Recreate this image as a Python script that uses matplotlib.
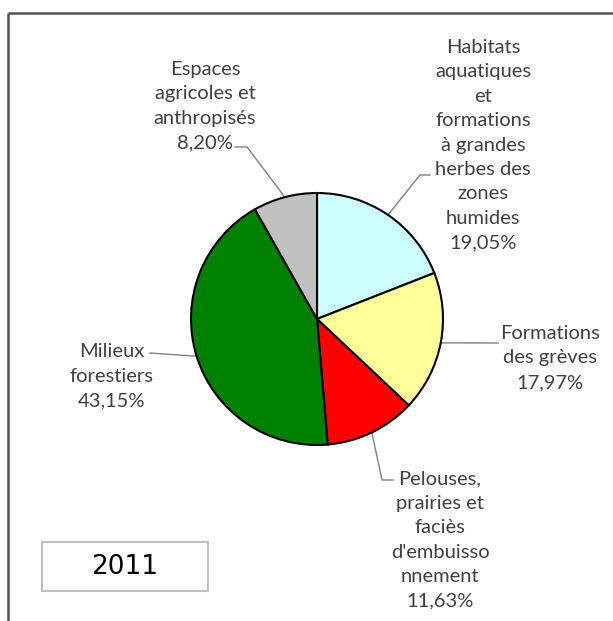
import matplotlib.pyplot as plt
from matplotlib.patches import Rectangle

# Données du graphique (2011)
noms = [
    "Habitats\naquatiques\net\nformations\nà grandes\nherbes des\nzones\nhumides",
    "Formations\ndes grèves",
    "Pelouses,\nprairies et\nfaciès\nd'embuisso\nnnement",
    "Milieux\nforestiers",
    "Espaces\nagricoles et\nanthropisés",
]
valeurs = [19.05, 17.97, 11.63, 43.15, 8.20]
couleurs = ["#CCFFFF", "#FFFF99", "#FF0000", "#008000", "#C0C0C0"]
annee = "2011"

# Position des étiquettes (pixels) et coudes des lignes de rappel
pos_textes = [(483, 145), (550, 358), (440, 540), (112, 376), (205, 106)]
coudes = [
    [(420, 175), (430, 175)],
    [(498, 343)],
    [(382, 480), (393, 480)],
    [(150, 353)],
    [(247, 147), (235, 147)],
]

W, H = 613, 621
fig = plt.figure(figsize=(W / 100, H / 100), dpi=100)
ax = fig.add_axes([0, 0, 1, 1])

centre = (317, 319)
rayon = 126
# axe y inversé (coordonnées en pixels) -> sens horaire à l'écran
wedges, _ = ax.pie(valeurs, colors=couleurs, center=centre, radius=rayon,
                   startangle=-90, counterclock=True,
                   wedgeprops=dict(edgecolor="black", linewidth=1.5))
ax.set_xlim(0, W)
ax.set_ylim(H, 0)
ax.set_aspect("auto")
ax.axis("off")

import numpy as np
for w, nom, v, (tx, ty), pts in zip(wedges, noms, valeurs, pos_textes, coudes):
    a = np.deg2rad((w.theta1 + w.theta2) / 2)
    x0 = centre[0] + rayon * np.cos(a)
    y0 = centre[1] + rayon * np.sin(a)
    xs = [x0] + [p[0] for p in pts]
    ys = [y0] + [p[1] for p in pts]
    ax.plot(xs, ys, color="#7f7f7f", lw=1.0, zorder=0)
    txt = nom + "\n" + f"{v:.2f}".replace(".", ",") + "%"
    ax.text(tx, ty, txt, ha="center", va="center", fontsize=14.5,
            family="Lato", color="#404040", linespacing=1.53)

# cadre (haut et gauche visibles)
ax.plot([8, W], [13, 13], color="#555555", lw=1.8, solid_capstyle="butt")
ax.plot([8, 8], [13, H], color="#555555", lw=1.8, solid_capstyle="butt")

# encadré de l'année
ax.add_patch(Rectangle((42, 542), 166, 49, fill=False, edgecolor="#C0C0C0", lw=1.5))
ax.text(125, 567, annee, ha="center", va="center", fontsize=19,
        family="DejaVu Sans", color="black")

fig.savefig("out.png", dpi=100, facecolor="white")
